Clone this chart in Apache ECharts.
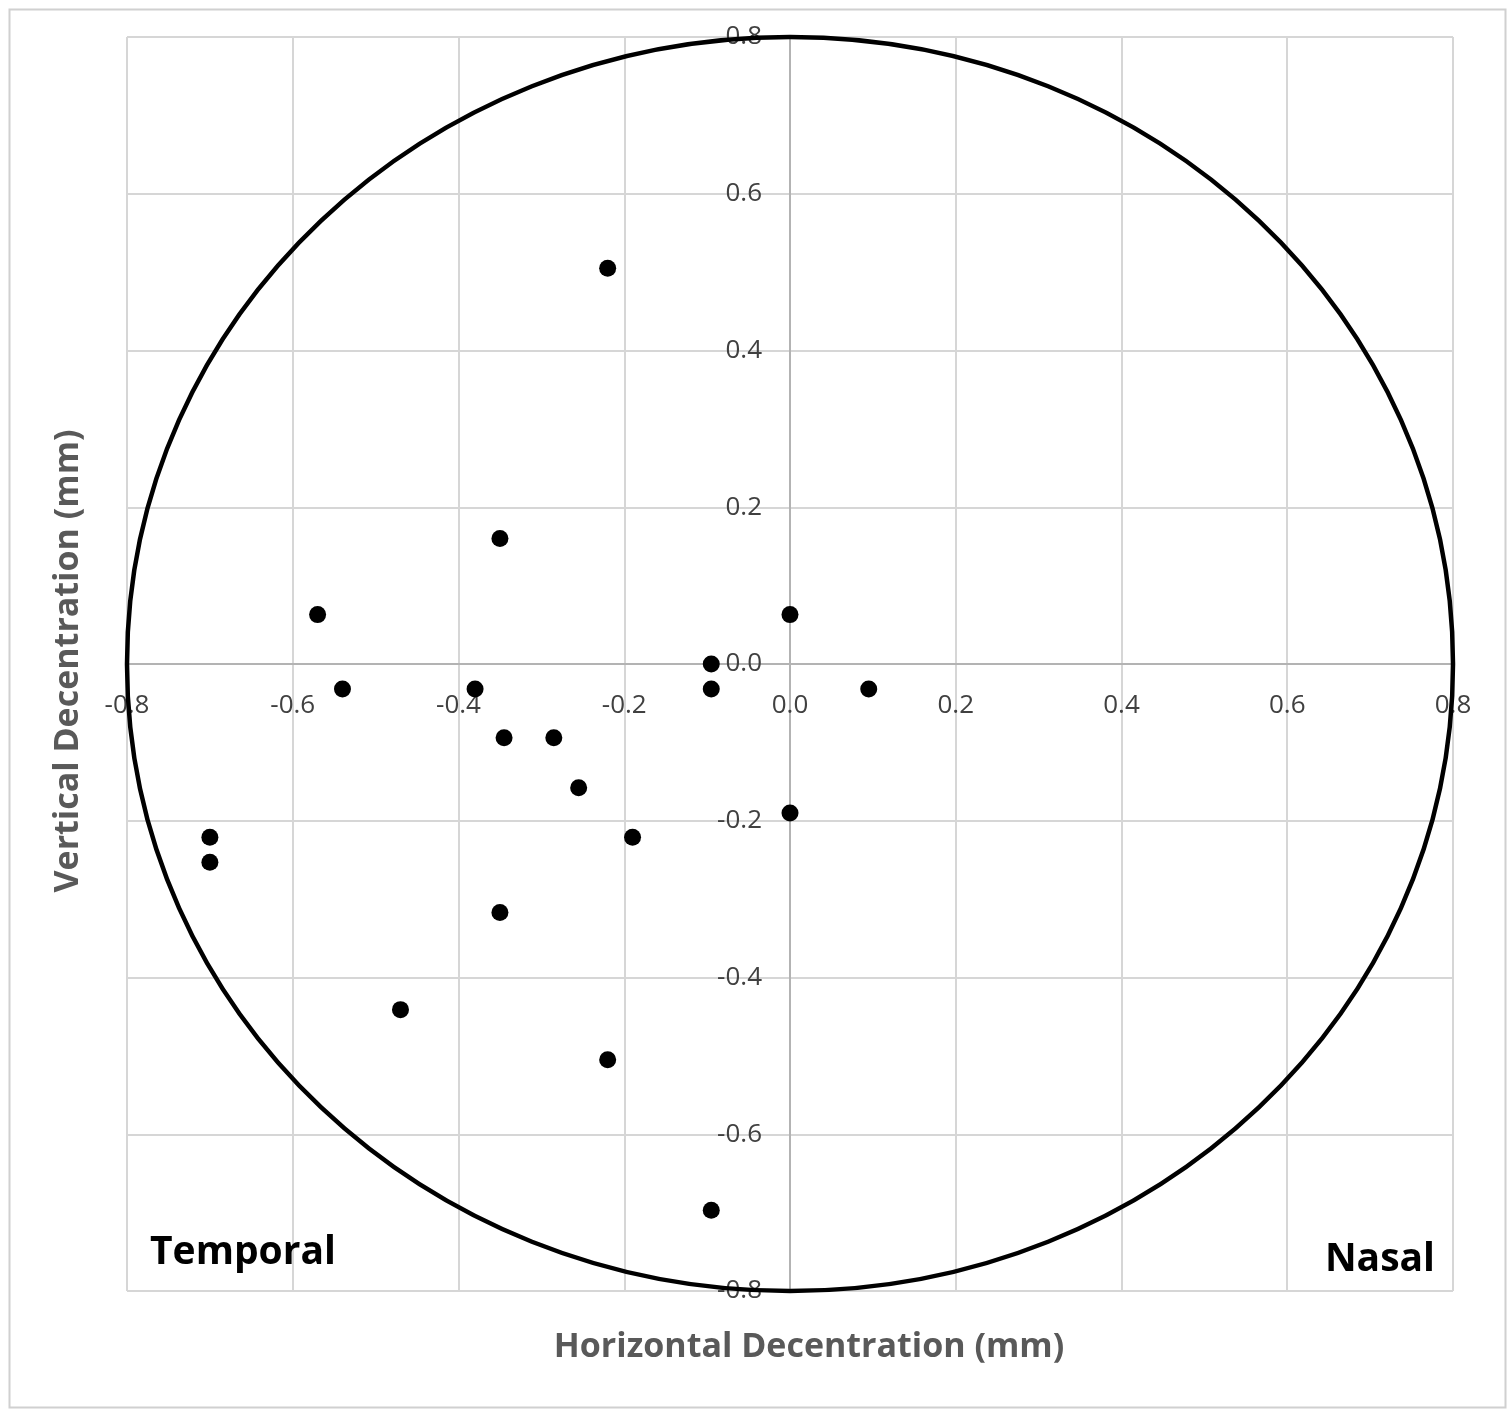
<!DOCTYPE html>
<html>
<head>
<meta charset="utf-8">
<script src="https://cdn.jsdelivr.net/npm/echarts@6/dist/echarts.min.js"></script>
<style>html,body{margin:0;padding:0;background:#fff}#c{width:1510px;height:1413px}</style>
</head>
<body>
<div id="c"></div>
<script>
// Horizontal decentration (mm)
const xValues = [-0.22, -0.35, -0.57, 0.00, -0.095, -0.54, -0.38, -0.095, 0.095, -0.345, -0.285, -0.255, 0.00, -0.19, -0.70, -0.70, -0.35, -0.47, -0.22, -0.095];
// Vertical decentration (mm)
const yValues = [0.505, 0.16, 0.063, 0.063, 0.00, -0.032, -0.032, -0.032, -0.032, -0.094, -0.094, -0.158, -0.19, -0.221, -0.221, -0.253, -0.317, -0.441, -0.505, -0.697];
const circleRadius = 0.8;
const axisMin = -0.8, axisMax = 0.8, axisStep = 0.2;
const xTitle = 'Horizontal Decentration (mm)';
const yTitle = 'Vertical Decentration (mm)';
const leftLabel = 'Temporal';
const rightLabel = 'Nasal';

const points = xValues.map((x, i) => [x, yValues[i]]);
const chart = echarts.init(document.getElementById('c'));
const fontFam = '"Open Sans", Lato, "Liberation Sans", sans-serif';
const gridBox = { left: 127, right: 57, top: 37, bottom: 122 };
const W = 1510, H = 1413;
const plotW = W - gridBox.left - gridBox.right;
const plotH = H - gridBox.top - gridBox.bottom;
// distance from grid edges to the zero lines (axes cross at 0)
const xZeroFrac = (0 - axisMin) / (axisMax - axisMin);
const yZeroFrac = (0 - axisMin) / (axisMax - axisMin);
const axisCommon = {
  type: 'value', min: axisMin, max: axisMax, interval: axisStep,
  axisLine: { onZero: false, lineStyle: { color: '#b3b3b3', width: 2 } },
  axisTick: { show: false },
  splitLine: { show: true, lineStyle: { color: '#d6d6d6', width: 2 } },
  axisLabel: { color: '#404040', fontSize: 26, fontFamily: fontFam, formatter: v => v.toFixed(1), showMinLabel: true, showMaxLabel: true, hideOverlap: false }
};
chart.setOption({
  animation: false,
  grid: Object.assign({ show: false, containLabel: false }, gridBox),
  xAxis: Object.assign({}, axisCommon, {
    position: 'bottom', offset: -(plotH * yZeroFrac),
    axisLabel: Object.assign({}, axisCommon.axisLabel, { margin: 29 })
  }),
  yAxis: Object.assign({}, axisCommon, {
    position: 'left', offset: -(plotW * xZeroFrac),
    axisLabel: Object.assign({}, axisCommon.axisLabel, { margin: 28 })
  }),
  series: [{
    type: 'scatter', data: points, symbol: 'circle', symbolSize: 17,
    itemStyle: { color: '#000', opacity: 1 }, z: 5
  }]
});
const c0 = chart.convertToPixel({ gridIndex: 0 }, [0, 0]);
const c1 = chart.convertToPixel({ gridIndex: 0 }, [circleRadius, circleRadius]);
const rx = c1[0] - c0[0], ry = c0[1] - c1[1];
chart.setOption({
  graphic: [
    { type: 'rect', left: 7, top: 7, shape: { width: 1496, height: 1398 }, style: { fill: null, stroke: '#d0d0d0', lineWidth: 2 }, z: 0, silent: true },
    { type: 'ellipse', shape: { cx: c0[0], cy: c0[1], rx: rx, ry: ry }, style: { fill: null, stroke: '#000', lineWidth: 4.5 }, z: 4, silent: true },
    { type: 'text', x: c0[0] + 19, y: 1347, style: { text: xTitle, fill: '#595959', font: 'bold 34px ' + fontFam, textAlign: 'center', textVerticalAlign: 'middle' }, z: 6 },
    { type: 'text', x: 68, y: 661, rotation: Math.PI / 2, style: { text: yTitle, fill: '#595959', font: 'bold 34px ' + fontFam, textAlign: 'center', textVerticalAlign: 'middle' }, z: 6 },
    { type: 'text', x: 150, y: 1253, style: { text: leftLabel, fill: '#000', font: 'bold 39px ' + fontFam, textAlign: 'left', textVerticalAlign: 'middle' }, z: 6 },
    { type: 'text', x: 1435, y: 1260, style: { text: rightLabel, fill: '#000', font: 'bold 39px ' + fontFam, textAlign: 'right', textVerticalAlign: 'middle' }, z: 6 }
  ]
});
</script>
</body>
</html>
